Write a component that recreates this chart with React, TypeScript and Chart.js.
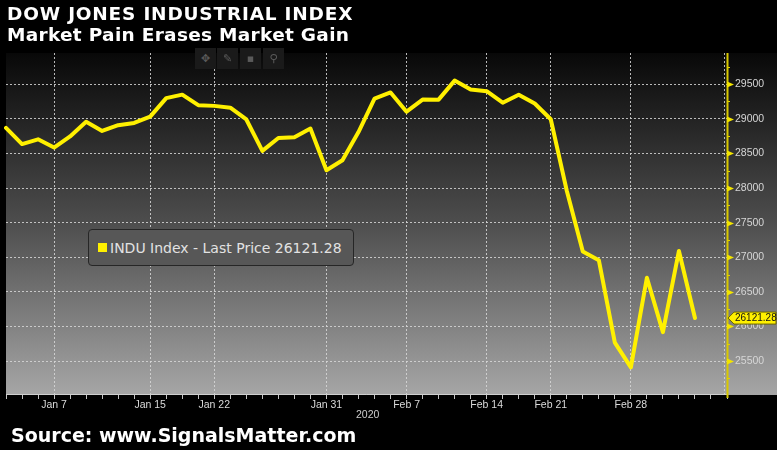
import React, { useEffect, useRef } from 'react';
import { Chart, registerables } from 'chart.js';

Chart.register(...registerables);

const dates: string[] = [
  'Jan 2', 'Jan 3', 'Jan 6', 'Jan 7', 'Jan 8', 'Jan 9', 'Jan 10', 'Jan 13', 'Jan 14', 'Jan 15',
  'Jan 16', 'Jan 17', 'Jan 21', 'Jan 22', 'Jan 23', 'Jan 24', 'Jan 27', 'Jan 28', 'Jan 29', 'Jan 30',
  'Jan 31', 'Feb 3', 'Feb 4', 'Feb 5', 'Feb 6', 'Feb 7', 'Feb 10', 'Feb 11', 'Feb 12', 'Feb 13',
  'Feb 14', 'Feb 18', 'Feb 19', 'Feb 20', 'Feb 21', 'Feb 24', 'Feb 25', 'Feb 26', 'Feb 27', 'Feb 28',
  'Mar 2', 'Mar 3', 'Mar 4', 'Mar 5', 'Mar 6', 'Mar 9',
];

const closes: number[] = [
  28868.8, 28634.88, 28703.38, 28583.68, 28745.09, 28956.9, 28823.77, 28907.05, 28939.67, 29030.22,
  29297.64, 29348.1, 29196.04, 29186.27, 29160.09, 28989.73, 28535.8, 28722.85, 28734.45, 28859.44,
  28256.03, 28399.81, 28807.63, 29290.85, 29379.77, 29102.51, 29276.82, 29276.34, 29551.42, 29423.31,
  29398.08, 29232.19, 29348.03, 29219.98, 28992.41, 27960.8, 27081.36, 26957.59, 25766.64, 25409.36,
  26703.32, 25917.41, 27090.86, 26121.28,
];

const labeledDates: string[] = ['Jan 7', 'Jan 15', 'Jan 22', 'Jan 31', 'Feb 7', 'Feb 14', 'Feb 21', 'Feb 28'];

const yTickValues: number[] = [
  25250, 25500, 25750, 26000, 26250, 26500, 26750, 27000, 27250, 27500,
  27750, 28000, 28250, 28500, 28750, 29000, 29250, 29500, 29750,
];
const yLabelValues: number[] = [25500, 26000, 26500, 27000, 27500, 28000, 28500, 29000, 29500];

const yMin = 25010;
const yMax = 29950;
const lastPrice = 26121.28;
const seriesName = 'INDU Index - Last Price';
const yearLabel = '2020';
const titleLine1 = 'DOW JONES INDUSTRIAL INDEX';
const titleLine2 = 'Market Pain Erases Market Gain';
const sourceText = 'Source: www.SignalsMatter.com';

const YELLOW = '#fff000';
const GRID = 'rgba(215,215,215,0.85)';

const isMajor = (v: number) => yLabelValues.includes(v);

const decorPlugin = {
  id: 'decor',
  beforeDraw(chart: any) {
    const { ctx, chartArea: a, width } = chart;
    ctx.save();
    const g = ctx.createLinearGradient(0, a.top, 0, a.bottom);
    g.addColorStop(0, '#080808');
    g.addColorStop(0.5, '#4e4e4e');
    g.addColorStop(1, '#a6a6a6');
    ctx.fillStyle = g;
    ctx.fillRect(a.left, a.top, width - a.left, a.bottom - a.top);
    ctx.restore();
  },
  afterDraw(chart: any) {
    const { ctx, chartArea: a, scales } = chart;
    const y = scales.y;
    ctx.save();
    // dotted line just inside right edge
    ctx.strokeStyle = GRID;
    ctx.lineWidth = 1;
    ctx.setLineDash([2, 2]);
    ctx.beginPath();
    ctx.moveTo(a.right - 2.5, a.top);
    ctx.lineTo(a.right - 2.5, a.bottom);
    ctx.stroke();
    ctx.setLineDash([]);
    // x axis line
    ctx.strokeStyle = '#cfcfcf';
    ctx.lineWidth = 1;
    ctx.beginPath();
    ctx.moveTo(a.left, Math.round(a.bottom) - 0.5);
    ctx.lineTo(a.right, Math.round(a.bottom) - 0.5);
    ctx.stroke();
    // y axis line
    ctx.strokeStyle = '#d8c800';
    ctx.lineWidth = 2;
    ctx.beginPath();
    ctx.moveTo(a.right + 0.5, a.top);
    ctx.lineTo(a.right + 0.5, a.bottom + 3);
    ctx.stroke();
    // y tick markers
    ctx.fillStyle = '#f2e400';
    ctx.strokeStyle = '#e0d200';
    ctx.lineWidth = 1;
    y.ticks.forEach((t: any) => {
      const py = Math.round(y.getPixelForValue(t.value)) + 0.5;
      if (isMajor(t.value)) {
        ctx.beginPath();
        ctx.moveTo(a.right, py - 3);
        ctx.lineTo(a.right + 7, py);
        ctx.lineTo(a.right, py + 3);
        ctx.closePath();
        ctx.fill();
      } else {
        ctx.beginPath();
        ctx.moveTo(a.right, py);
        ctx.lineTo(a.right + 3, py);
        ctx.stroke();
      }
    });
    // last price tag
    const py = y.getPixelForValue(lastPrice);
    const x0 = a.right + 1;
    const h = 12;
    ctx.beginPath();
    ctx.moveTo(x0, py);
    ctx.lineTo(x0 + 6, py - h / 2);
    ctx.lineTo(776, py - h / 2);
    ctx.lineTo(776, py + h / 2);
    ctx.lineTo(x0 + 6, py + h / 2);
    ctx.closePath();
    ctx.fillStyle = YELLOW;
    ctx.fill();
    ctx.strokeStyle = '#6b6500';
    ctx.lineWidth = 1;
    ctx.stroke();
    ctx.fillStyle = '#111';
    ctx.font = '10px "Liberation Sans", Arial, sans-serif';
    ctx.textBaseline = 'middle';
    ctx.textAlign = 'left';
    ctx.fillText(lastPrice.toFixed(2), x0 + 7, py + 0.5);
    ctx.restore();
  },
};

export default function App() {
  const canvasRef = useRef<HTMLCanvasElement | null>(null);

  useEffect(() => {
    document.body.style.margin = '0';
    document.body.style.background = '#000';
    const canvas = canvasRef.current;
    if (!canvas) return;
    const data = dates.map((_, i) => (i < closes.length ? closes[i] : null));
    const tickFont = { family: '"Liberation Sans", Arial, sans-serif', size: 10.5 };
    const chart = new Chart(canvas, {
      type: 'line',
      data: {
        labels: dates,
        datasets: [
          {
            label: seriesName,
            data,
            borderColor: YELLOW,
            backgroundColor: YELLOW,
            borderWidth: 4,
            pointRadius: 0,
            tension: 0,
            borderJoinStyle: 'round',
            borderCapStyle: 'round',
            spanGaps: false,
          },
        ],
      },
      options: {
        responsive: false,
        animation: false,
        layout: { padding: { left: 6, top: 53, right: 0, bottom: 0 } },
        plugins: { legend: { display: false }, tooltip: { enabled: false } },
        scales: {
          x: {
            type: 'category',
            offset: false,
            grid: {
              color: (c: any) => (labeledDates.includes(dates[c.index]) ? GRID : 'transparent'),
              lineWidth: 1,
              drawTicks: true,
              tickLength: 4,
              tickColor: '#c4c4c4',
              tickWidth: 1,
              offset: false,
            },
            border: { display: false, dash: [2, 2] },
            ticks: {
              autoSkip: false,
              maxRotation: 0,
              minRotation: 0,
              color: '#dadada',
              font: tickFont,
              padding: 0,
              callback: (_v: any, i: number) => (labeledDates.includes(dates[i]) ? dates[i] : ''),
            },
            afterFit: (s: any) => {
              s.height = 55;
            },
          },
          y: {
            position: 'right',
            min: yMin,
            max: yMax,
            afterBuildTicks: (s: any) => {
              s.ticks = yTickValues.map((v) => ({ value: v }));
            },
            grid: {
              color: (c: any) => (c.tick && isMajor(c.tick.value) ? GRID : 'transparent'),
              lineWidth: 1,
              drawTicks: false,
            },
            border: { display: false, dash: [2, 2] },
            ticks: {
              autoSkip: false,
              color: '#d6d6d6',
              font: tickFont,
              padding: 8,
              callback: (v: any) => (isMajor(Number(v)) ? String(v) : ''),
            },
            afterFit: (s: any) => {
              s.width = 50;
            },
          },
        },
      } as any,
      plugins: [decorPlugin],
    });
    return () => chart.destroy();
  }, []);

  const titleStyle: React.CSSProperties = {
    position: 'absolute',
    left: 7,
    margin: 0,
    color: '#fff',
    fontFamily: '"DejaVu Sans", Verdana, sans-serif',
    fontWeight: 'bold',
    fontSize: 18.5,
    lineHeight: 'normal',
    whiteSpace: 'nowrap',
  };

  const toolBox = (left: number, glyph: string) => (
    <div
      key={left}
      style={{
        position: 'absolute',
        left,
        top: 48,
        width: 21,
        height: 21,
        background: '#1a1a1a',
        color: '#5a5a5a',
        fontFamily: '"DejaVu Sans", sans-serif',
        fontSize: 11,
        lineHeight: '21px',
        textAlign: 'center',
      }}
    >
      {glyph}
    </div>
  );

  return (
    <div style={{ position: 'relative', width: 777, height: 450, background: '#000', overflow: 'hidden' }}>
      <canvas ref={canvasRef} width={777} height={450} style={{ display: 'block', width: 777, height: 450 }} />
      <div style={{ ...titleStyle, top: 2.5, letterSpacing: 0.8 }}>{titleLine1}</div>
      <div style={{ ...titleStyle, top: 24, letterSpacing: 0.3 }}>{titleLine2}</div>
      <div style={{ ...titleStyle, left: 11, top: 424, fontSize: 19 }}>{sourceText}</div>
      {toolBox(195, '✥')}
      {toolBox(217, '✎')}
      {toolBox(240, '▪')}
      {toolBox(263, '⚲')}
      <div
        style={{
          position: 'absolute',
          left: 356,
          top: 408,
          color: '#cccccc',
          fontFamily: '"Liberation Sans", Arial, sans-serif',
          fontSize: 10.5,
          lineHeight: 'normal',
        }}
      >
        {yearLabel}
      </div>
      <div
        style={{
          position: 'absolute',
          left: 88,
          top: 229,
          width: 266,
          height: 37,
          boxSizing: 'border-box',
          border: '1px solid #262626',
          borderRadius: 4,
          background: '#575757',
        }}
      >
        <div style={{ position: 'absolute', left: 9, top: 13, width: 9, height: 9, background: YELLOW }} />
        <div
          style={{
            position: 'absolute',
            left: 21,
            top: 10,
            color: '#e2e2e2',
            fontFamily: '"DejaVu Sans", Verdana, sans-serif',
            fontSize: 14,
            lineHeight: 'normal',
            whiteSpace: 'nowrap',
          }}
        >
          {seriesName} {lastPrice.toFixed(2)}
        </div>
      </div>
    </div>
  );
}
